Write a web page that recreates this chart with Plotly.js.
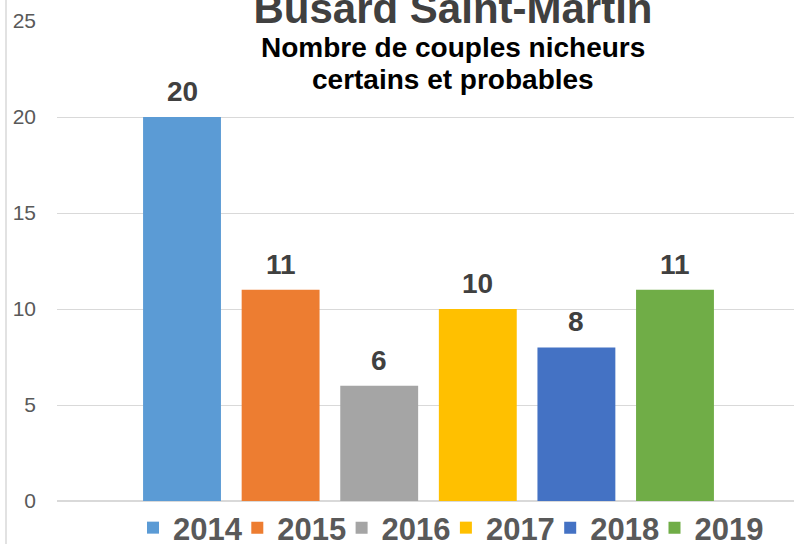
<!DOCTYPE html>
<html>
<head>
<meta charset="utf-8">
<script src="https://cdn.plot.ly/plotly-3.0.1.min.js"></script>
<style>html,body{margin:0;padding:0;overflow:hidden;background:#fff}</style>
</head>
<body>
<div id="chart" style="width:794px;height:544px"></div>
<script>
// Data
var years = [2014, 2015, 2016, 2017, 2018, 2019];
var pairs = [20, 11, 6, 10, 8, 11];
var colors = ['#5B9BD5', '#ED7D31', '#A5A5A5', '#FFC000', '#4472C4', '#70AD47'];
var titleText = 'Busard Saint-Martin';
var subtitleLines = ['Nombre de couples nicheurs', 'certains et probables'];

var FONT = 'Liberation Sans, Arial, sans-serif';
var LEGEND_FONT = { family: FONT, size: 31, color: '#595959', weight: 'bold' };
var LEGEND_START = 149;   // px of first legend swatch
var LEGEND_STEP = 104.3;  // px between legend entries

function legendId(i) { return i === 0 ? 'legend' : 'legend' + (i + 1); }

var traces = years.map(function (yr, i) {
  return {
    type: 'bar',
    name: String(yr),
    x: [yr],
    y: [pairs[i]],
    width: 0.79,
    marker: { color: colors[i], line: { width: 0 } },
    hoverinfo: 'skip',
    legend: legendId(i)
  };
});

var anns = years.map(function (yr, i) {
  return {
    x: yr, y: pairs[i], xref: 'x', yref: 'y',
    text: String(pairs[i]),
    showarrow: false,
    yanchor: 'bottom',
    yshift: 8,
    font: { family: FONT, size: 28, color: '#404040', weight: 'bold' }
  };
});

var subTops = [30, 62];
subtitleLines.forEach(function (t, k) {
  anns.push({
    xref: 'paper', yref: 'paper',
    x: (453 - 57) / 737, y: (502 - subTops[k]) / 481,
    xanchor: 'center', yanchor: 'top',
    text: t,
    showarrow: false,
    font: { family: FONT, size: 28, color: '#000000', weight: 'bold' }
  });
});

var layout = {
  width: 794, height: 544,
  margin: { l: 57, r: 0, t: 21, b: 42, pad: 0 },
  paper_bgcolor: '#ffffff', plot_bgcolor: '#ffffff',
  showlegend: true,
  title: {
    text: titleText,
    font: { family: FONT, size: 42, color: '#404040', weight: 'bold' },
    xref: 'container', yref: 'container',
    x: 453 / 794, xanchor: 'center',
    y: 1 - 23 / 544, yanchor: 'bottom'
  },
  xaxis: {
    range: [2012.732, 2020.207],
    showgrid: false, zeroline: false,
    showticklabels: false, ticks: '',
    showline: false, fixedrange: true
  },
  yaxis: {
    range: [0, 25], dtick: 5, tick0: 0,
    showgrid: true, gridcolor: '#D9D9D9', gridwidth: 1,
    zeroline: true, zerolinecolor: '#D9D9D9', zerolinewidth: 1.5,
    showline: false, ticks: '',
    ticklabelstandoff: 20,
    tickfont: { family: FONT, size: 21, color: '#595959' },
    fixedrange: true
  },
  annotations: anns,
  shapes: [{
    type: 'line', xref: 'paper', yref: 'paper',
    x0: (6 - 57) / 737, x1: (6 - 57) / 737, y0: -0.2, y1: 1.2,
    line: { color: '#D9D9D9', width: 1.5 }
  }]
};

years.forEach(function (yr, i) {
  layout[legendId(i)] = {
    orientation: 'h',
    xref: 'container', yref: 'container',
    x: (LEGEND_START + i * LEGEND_STEP - 16) / 794, xanchor: 'left',
    y: 1 - 528 / 544, yanchor: 'middle',
    font: LEGEND_FONT,
    bgcolor: 'rgba(0,0,0,0)',
    itemclick: false, itemdoubleclick: false
  };
});

Plotly.newPlot('chart', traces, layout, { displayModeBar: false, staticPlot: true });
</script>
</body>
</html>
